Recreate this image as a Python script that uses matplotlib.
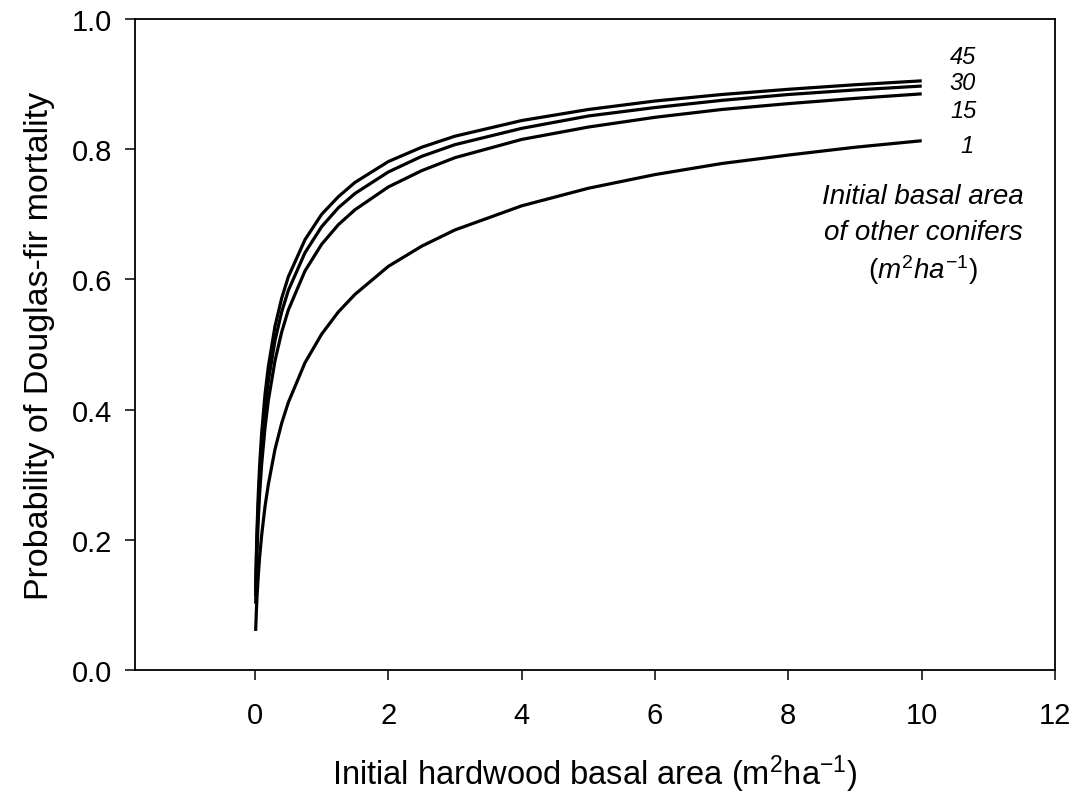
import numpy as np
import matplotlib
matplotlib.use("Agg")
from matplotlib import pyplot as plt

plt.rcParams['font.family'] = ['Liberation Sans', 'DejaVu Sans']
plt.rcParams['mathtext.fontset'] = 'custom'
plt.rcParams['mathtext.rm'] = 'Liberation Sans'
plt.rcParams['mathtext.it'] = 'Liberation Sans:italic'

# hardwood basal area (m2/ha)
hw_ba = [0.01, 0.02, 0.03, 0.05, 0.07, 0.1, 0.15, 0.2, 0.3, 0.4, 0.5, 0.75, 1,
         1.25, 1.5, 2, 2.5, 3, 4, 5, 6, 7, 8, 9, 10]

# probability of mortality, one series per basal area of other conifers
p_1 = [0.060, 0.089, 0.112, 0.146, 0.174, 0.207, 0.251, 0.285, 0.339, 0.379, 0.411,
       0.472, 0.516, 0.550, 0.577, 0.620, 0.651, 0.676, 0.713, 0.740, 0.761, 0.778,
       0.791, 0.803, 0.813]
p_15 = [0.102, 0.148, 0.182, 0.233, 0.272, 0.316, 0.372, 0.414, 0.475, 0.519, 0.553,
        0.613, 0.654, 0.684, 0.707, 0.742, 0.767, 0.787, 0.815, 0.834, 0.849, 0.861,
        0.870, 0.878, 0.885]
p_30 = [0.114, 0.164, 0.201, 0.255, 0.296, 0.344, 0.402, 0.444, 0.506, 0.550, 0.583,
        0.641, 0.681, 0.710, 0.732, 0.765, 0.789, 0.807, 0.832, 0.851, 0.864, 0.875,
        0.884, 0.891, 0.897]
p_45 = [0.123, 0.176, 0.215, 0.272, 0.315, 0.364, 0.423, 0.466, 0.528, 0.571, 0.604,
        0.661, 0.700, 0.727, 0.749, 0.781, 0.803, 0.820, 0.844, 0.861, 0.874, 0.884,
        0.892, 0.899, 0.905]

series = {"1": p_1, "15": p_15, "30": p_30, "45": p_45}
label_y = {"45": 0.942, "30": 0.903, "15": 0.859, "1": 0.806}

fig = plt.figure(figsize=(10.79, 8.03), dpi=100)
ax = fig.add_axes([0.1251, 0.1644, 0.8527, 0.8107])

for k, vals in series.items():
    ax.plot(hw_ba, vals, color="black", lw=2.3, solid_capstyle="butt",
            solid_joinstyle="round")
    ax.text(10.62 if k != "1" else 10.68, label_y[k], k, style="italic",
            fontsize=17, ha="center", va="center")

ax.text(10.02, 0.728, "Initial basal area", style="italic", fontsize=20, ha="center", va="center")
ax.text(10.02, 0.673, "of other conifers", style="italic", fontsize=20, ha="center", va="center")
ax.text(10.02, 0.616, r"$(m^2ha^{-1})$", fontsize=20, ha="center", va="center")

ax.set_xlim(-1.8, 12)
ax.set_ylim(0, 1)
ax.set_xticks([0, 2, 4, 6, 8, 10, 12])
ax.set_yticks([0.0, 0.2, 0.4, 0.6, 0.8, 1.0])
ax.set_yticklabels(["0.0", "0.2", "0.4", "0.6", "0.8", "1.0"])
ax.tick_params(direction="out", length=7.5, width=1.1, labelsize=21, pad=9)
ax.tick_params(axis="x", pad=15)
for s in ax.spines.values():
    s.set_linewidth(1.3)

ax.set_xlabel(r"Initial hardwood basal area (m$^{\mathregular{2}}$ha$^{\mathregular{-1}}$)", fontsize=23.5, labelpad=17)
ax.set_ylabel("Probability of Douglas-fir mortality", fontsize=24.5, labelpad=12)

plt.savefig("out.png", dpi=100)
